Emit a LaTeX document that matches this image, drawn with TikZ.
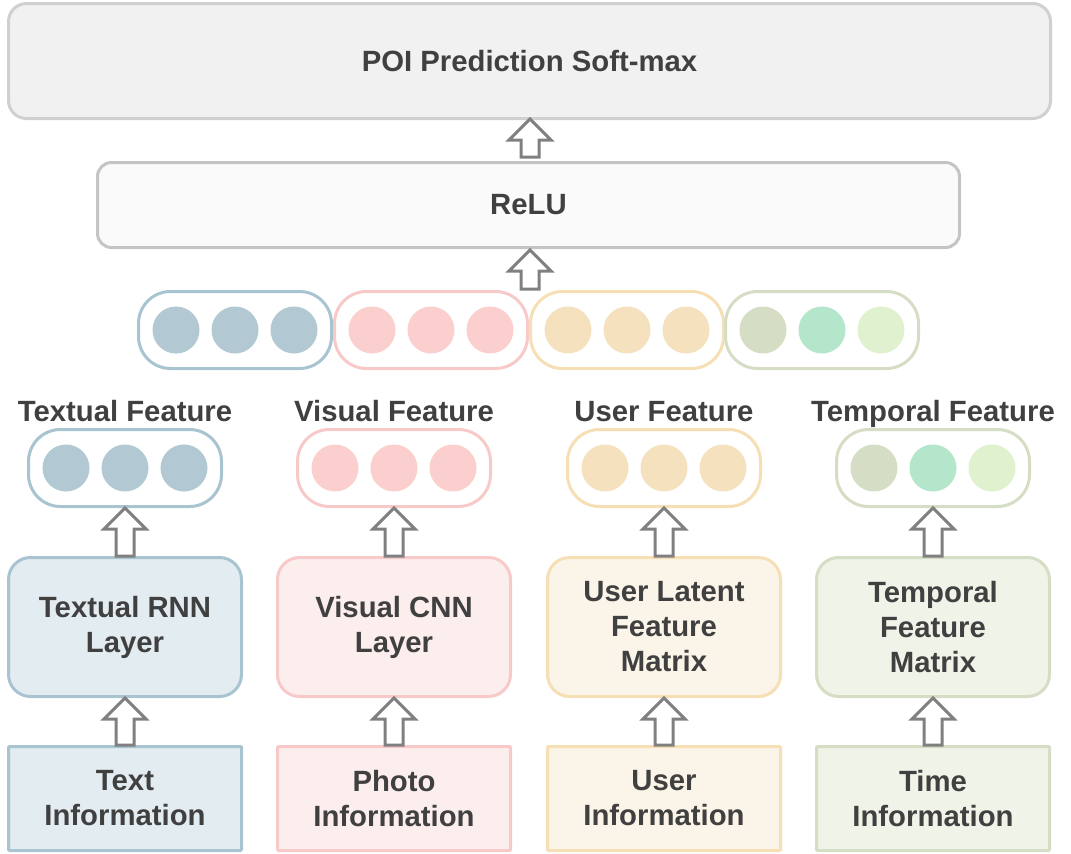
\documentclass[tikz,border=0pt]{standalone}
\usepackage{fontspec}
\setmainfont{Liberation Sans}
\usetikzlibrary{calc}
\definecolor{txt}{HTML}{404040}
\definecolor{arrgray}{HTML}{808080}
\definecolor{topfill}{HTML}{F1F1F1}
\definecolor{topdraw}{HTML}{D0D0D0}
\definecolor{relufill}{HTML}{FAFAFA}
\definecolor{reludraw}{HTML}{C4C4C4}
\definecolor{bluedraw}{HTML}{A9C4D1}
\definecolor{bluefill}{HTML}{E3ECF0}
\definecolor{bluecirc}{HTML}{B2C9D3}
\definecolor{pinkdraw}{HTML}{F8C9C9}
\definecolor{pinkfill}{HTML}{FDEEEE}
\definecolor{pinkcirc}{HTML}{FCCFCF}
\definecolor{yeldraw}{HTML}{F6DFB4}
\definecolor{yelfill}{HTML}{FBF4E8}
\definecolor{yelcirc}{HTML}{F6E1BE}
\definecolor{grndraw}{HTML}{D5DEC4}
\definecolor{grnfill}{HTML}{EFF3E8}
\definecolor{grncircA}{HTML}{D5DEC4}
\definecolor{grncircB}{HTML}{B3E6CA}
\definecolor{grncircC}{HTML}{DFF1CF}
\newcommand\uparrowblock[2]{%
  \draw[blockarr] let \p1=(#1), \p2=(#2) in
    (\x1-9pt,\y1) -- (\x1-9pt,\y2-21pt) -- (\x1-21pt,\y2-21pt) -- (\x1,\y2)
    -- (\x1+21pt,\y2-21pt) -- (\x1+9pt,\y2-21pt) -- (\x1+9pt,\y1) -- cycle;}
\tikzset{
  base/.style={line width=3pt, font=\fontsize{29.3}{35}\selectfont\bfseries, text=txt, align=center, inner sep=0pt},
  topbox/.style={base, draw=topdraw, fill=topfill, rounded corners=18pt, minimum width=1042pt, minimum height=115pt},
  relubox/.style={base, draw=reludraw, fill=relufill, rounded corners=14pt, minimum width=862pt, minimum height=85pt},
  capsule/.style={line width=3pt, draw=#1, fill=white, rounded corners=32pt, minimum width=193pt, minimum height=77pt},
  dot/.style={circle, fill=#1, minimum size=47pt, inner sep=0pt},
  layerbox/.style={base, rounded corners=22pt, minimum width=233pt, minimum height=139pt},
  infobox/.style={base, rounded corners=1pt, minimum width=233pt, minimum height=104pt},
  flabel/.style={font=\fontsize{29.3}{35}\selectfont\bfseries, text=txt, inner sep=0pt, anchor=base},
  blockarr/.style={line width=3pt, draw=arrgray, fill=white, line join=miter},
}
\begin{document}
\begin{tikzpicture}[x=1pt,y=-1pt]
\useasboundingbox (0,0) rectangle (1071,854);
% top boxes
\node[topbox] (soft) at (529.5,61) {POI Prediction Soft-max};
\node[relubox] (relu) at (528.5,205) {ReLU};
% combined capsules
\node[capsule=bluedraw] (cb) at (235,330) {};
\node[capsule=pinkdraw] (cp) at (431,330) {};
\node[capsule=yeldraw] (cy) at (627,330) {};
\node[capsule=grndraw] (cg) at (822,330) {};
\foreach \n/\c/\a/\b/\d in {cb/235/bluecirc/bluecirc/bluecirc, cp/431/pinkcirc/pinkcirc/pinkcirc, cy/627/yelcirc/yelcirc/yelcirc, cg/822/grncircA/grncircB/grncircC}{
  \node[dot=\a] (\n1) at (\c-59,330) {};
  \node[dot=\b] (\n2) at (\c,330) {};
  \node[dot=\d] (\n3) at (\c+59,330) {};
}
% feature labels
\node[flabel] (lt) at (125,421.5) {Textual Feature};
\node[flabel] (lv) at (394,421.5) {Visual Feature};
\node[flabel] (lu) at (664,421.5) {User Feature};
\node[flabel] (ltm) at (933,421.5) {Temporal Feature};
% feature capsules
\node[capsule=bluedraw] (fb) at (125,468) {};
\node[capsule=pinkdraw] (fp) at (394,468) {};
\node[capsule=yeldraw] (fy) at (664,468) {};
\node[capsule=grndraw] (fg) at (933,468) {};
\foreach \n/\c/\a/\b/\d in {fb/125/bluecirc/bluecirc/bluecirc, fp/394/pinkcirc/pinkcirc/pinkcirc, fy/664/yelcirc/yelcirc/yelcirc, fg/933/grncircA/grncircB/grncircC}{
  \node[dot=\a] (\n1) at (\c-59,468) {};
  \node[dot=\b] (\n2) at (\c,468) {};
  \node[dot=\d] (\n3) at (\c+59,468) {};
}
% layer boxes
\node[layerbox, draw=bluedraw, fill=bluefill] (rnn) at (125,627) {Textual RNN\\Layer};
\node[layerbox, draw=pinkdraw, fill=pinkfill] (cnn) at (394,627) {Visual CNN\\Layer};
\node[layerbox, draw=yeldraw, fill=yelfill] (ulf) at (664,627) {User Latent\\Feature\\Matrix};
\node[layerbox, draw=grndraw, fill=grnfill] (tfm) at (933,627) {Temporal\\Feature\\Matrix};
% info boxes
\node[infobox, draw=bluedraw, fill=bluefill] (ti) at (125,798.5) {Text\\Information};
\node[infobox, draw=pinkdraw, fill=pinkfill] (pi) at (394,798.5) {Photo\\Information};
\node[infobox, draw=yeldraw, fill=yelfill] (ui) at (664,798.5) {User\\Information};
\node[infobox, draw=grndraw, fill=grnfill] (tmi) at (933,798.5) {Time\\Information};
% arrows
\coordinate (a1b) at (530,157);
\coordinate (a1t) at (530,119);
\coordinate (a2b) at (530,289);
\coordinate (a2t) at (530,250);
\uparrowblock{a1b}{a1t}
\uparrowblock{a2b}{a2t}
\uparrowblock{rnn.north}{fb.south}
\uparrowblock{cnn.north}{fp.south}
\uparrowblock{ulf.north}{fy.south}
\uparrowblock{tfm.north}{fg.south}
\uparrowblock{ti.north}{rnn.south}
\uparrowblock{pi.north}{cnn.south}
\uparrowblock{ui.north}{ulf.south}
\uparrowblock{tmi.north}{tfm.south}
\end{tikzpicture}
\end{document}
